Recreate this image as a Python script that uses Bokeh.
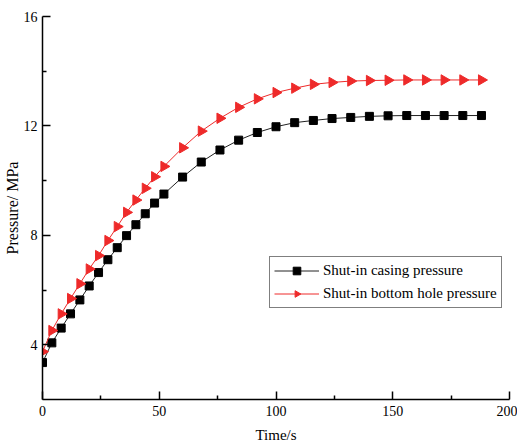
import math
from bokeh.plotting import figure
from bokeh.models import Range1d, FixedTicker, Legend, LegendItem
from bokeh.core.properties import value
from bokeh.embed import file_html
from bokeh.resources import INLINE

time_s = [0, 4, 8, 12, 16, 20, 24, 28, 32, 36, 40, 44, 48, 52,
          60, 68, 76, 84, 92, 100, 108, 116, 124, 132, 140, 148,
          156, 164, 172, 180, 188]
casing_pressure = [3.35, 4.07, 4.61, 5.13, 5.64, 6.15, 6.64, 7.11, 7.55, 7.99,
                   8.39, 8.79, 9.18, 9.51, 10.13, 10.68, 11.12, 11.48, 11.76,
                   11.97, 12.12, 12.20, 12.27, 12.31, 12.35, 12.37, 12.38,
                   12.38, 12.38, 12.38, 12.38]
bottom_hole_pressure = [3.75, 4.52, 5.13, 5.69, 6.23, 6.77, 7.26, 7.81, 8.32, 8.84,
                        9.29, 9.72, 10.14, 10.52, 11.20, 11.81, 12.28, 12.68, 12.99,
                        13.22, 13.38, 13.52, 13.59, 13.64, 13.66, 13.67, 13.68,
                        13.68, 13.68, 13.68, 13.68]
x_ticks = [0, 50, 100, 150, 200]
x_minor = [25, 75, 125, 175]
y_ticks = [4, 8, 12, 16]
y_minor = [6, 10, 14]

FONT = "Liberation Serif"
RED = "#ee2a2a"

p = figure(width=517, height=447, output_backend="svg", toolbar_location=None,
           x_range=Range1d(0, 200), y_range=Range1d(2, 16),
           min_border_left=40, min_border_right=8, min_border_top=16,
           min_border_bottom=48)
p.outline_line_color = None
p.grid.visible = False
p.background_fill_color = "white"
p.border_fill_color = "white"

l1 = p.line(time_s, casing_pressure, line_color="#222222", line_width=1)
s1 = p.scatter(time_s, casing_pressure, marker="square", size=8,
               fill_color="black", line_color="black")
l2 = p.line(time_s, bottom_hole_pressure, line_color=RED, line_width=1)
s2 = p.ngon(time_s, bottom_hole_pressure, radius=6, radius_units="screen", n=3,
            angle=-math.pi / 2, fill_color=RED, line_color=RED)

for ax in (p.xaxis[0], p.yaxis[0]):
    ax.axis_line_width = 1.5
    ax.axis_line_color = "black"
    ax.major_tick_in = 8
    ax.major_tick_out = 0
    ax.minor_tick_in = 4
    ax.minor_tick_out = 0
    ax.major_tick_line_width = 1.5
    ax.minor_tick_line_width = 1.5
    ax.major_tick_line_color = "black"
    ax.minor_tick_line_color = "black"
    ax.major_label_text_font = FONT
    ax.major_label_text_font_size = "14px"
    ax.major_label_text_color = "black"
    ax.axis_label_text_font = FONT
    ax.axis_label_text_font_style = "normal"
    ax.axis_label_text_color = "black"

p.xaxis[0].ticker = FixedTicker(ticks=x_ticks, minor_ticks=x_minor)
p.yaxis[0].ticker = FixedTicker(ticks=y_ticks, minor_ticks=y_minor)
p.xaxis[0].axis_label = "Time/s"
p.yaxis[0].axis_label = "Pressure/ MPa"
p.xaxis[0].axis_label_text_font_size = "15px"
p.yaxis[0].axis_label_text_font_size = "16px"
p.xaxis[0].major_label_standoff = 6
p.xaxis[0].axis_label_standoff = 8
p.yaxis[0].major_label_standoff = 5
p.yaxis[0].axis_label_standoff = 0

legend = Legend(items=[
    LegendItem(label="Shut-in casing pressure", renderers=[l1, s1]),
    LegendItem(label="Shut-in bottom hole pressure", renderers=[l2, s2]),
], location=(227, 91))
legend.label_text_font = FONT
legend.label_text_font_size = "15px"
legend.label_text_color = "black"
legend.border_line_color = "black"
legend.border_line_width = 1
legend.background_fill_color = "white"
legend.background_fill_alpha = 1
legend.padding = 4
legend.spacing = 4
legend.margin = 0
legend.glyph_width = 45
legend.glyph_height = 19
legend.label_height = 19
legend.label_standoff = 4
p.add_layout(legend)

open("out.html", "w").write(file_html(p, INLINE))
